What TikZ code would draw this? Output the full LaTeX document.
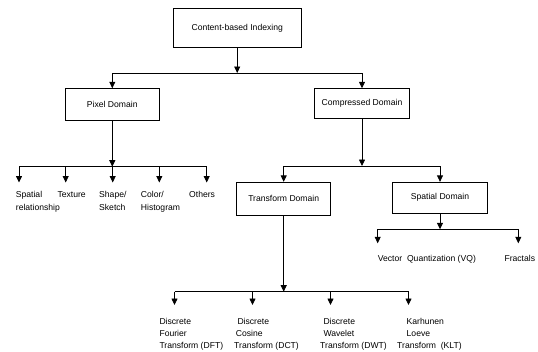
\documentclass[tikz,border=0pt]{standalone}
\usepackage{fontspec}
\setmainfont{Liberation Sans}
\usetikzlibrary{arrows.meta}
\begin{document}
\begin{tikzpicture}[x=1pt,y=-1pt,
  font=\fontsize{8.6}{12.4}\selectfont,
  box/.style={draw=black,line width=0.9pt,inner sep=0pt,align=center},
  leaf/.style={anchor=north west,inner sep=0pt,align=left},
  conn/.style={line width=0.8pt,black},
  arr/.style={conn,-{Triangle[width=6pt,length=6.5pt]}}]
\useasboundingbox (0,0) rectangle (538,351);
% boxes
\node[box,minimum width=127.7pt,minimum height=39.4pt] (content) at (237.2,28) {Content-based Indexing};
\node[box,minimum width=94.5pt,minimum height=31.3pt] (pixel) at (112.3,104.35) {Pixel Domain};
\node[box,minimum width=95.4pt,minimum height=29.3pt] (compressed) at (362,103.35) {Compressed Domain};
\node[box,minimum width=94pt,minimum height=32.7pt] (transform) at (283.7,198.65) {Transform Domain};
\node[box,minimum width=95pt,minimum height=30.7pt] (spatialdom) at (440,197.65) {Spatial Domain};
% leaves
\node[leaf] (spatrel) at (15.7,191.2) {Spatial\\relationship};
\node[leaf] (texture) at (57.3,191.2) {Texture};
\node[leaf] (shape) at (99,191.2) {Shape/\\Sketch};
\node[leaf] (color) at (140.7,191.2) {Color/\\Histogram};
\node[leaf] (others) at (189,191.2) {Others};
\node[leaf] (vq) at (377.7,255.2) {Vector\ \ Quantization (VQ)};
\node[leaf] (fractals) at (504.3,255.2) {Fractals};
\node[leaf] (dft) at (159.3,317.6) {Discrete\\Fourier\\Transform (DFT)};
\node[leaf] (dct) at (234,317.6) {\hspace*{3.3pt}Discrete\\\hspace*{1.7pt}Cosine\\Transform (DCT)};
\node[leaf] (dwt) at (320,317.6) {\hspace*{3.3pt}Discrete\\\hspace*{3.3pt}Wavelet\\Transform (DWT)};
\node[leaf] (klt) at (397,317.6) {\hspace*{9.5pt}Karhunen\\\hspace*{9.5pt}Loeve\\Transform\ \ (KLT)};
% junctions
\coordinate (j0) at (237.2,73);
\coordinate (j1) at (112.3,166.7);
\coordinate (j2) at (362,166);
\coordinate (j3) at (440,229.3);
\coordinate (j4) at (283.7,291.7);
% leaf arrow tips
\coordinate (p1) at (19,182.5);
\coordinate (p2) at (65.7,182.5);
\coordinate (p3) at (112.7,182.5);
\coordinate (p4) at (159.3,182.5);
\coordinate (p5) at (206.7,182.5);
\coordinate (s1) at (377.7,243.3);
\coordinate (s2) at (518.3,243.3);
\coordinate (t1) at (174.5,305);
\coordinate (t2) at (252.5,305);
\coordinate (t3) at (330.5,305);
\coordinate (t4) at (408.5,305);
% level 1
\draw[arr] (content.south) -- (j0);
\draw[conn] (pixel.north |- j0) -- (compressed.north |- j0);
\draw[arr] (pixel.north |- j0) -- (pixel.north);
\draw[arr] (compressed.north |- j0) -- (compressed.north);
% pixel branch
\draw[arr] (pixel.south) -- (j1);
\draw[conn] (p1 |- j1) -- (p5 |- j1);
\foreach \p in {p1,p2,p3,p4,p5} \draw[arr] (\p |- j1) -- (\p);
% compressed branch
\draw[arr] (compressed.south) -- (j2);
\draw[conn] (transform.north |- j2) -- (spatialdom.north |- j2);
\draw[arr] (transform.north |- j2) -- (transform.north);
\draw[arr] (spatialdom.north |- j2) -- (spatialdom.north);
% spatial branch
\draw[arr] (spatialdom.south) -- (j3);
\draw[conn] (s1 |- j3) -- (s2 |- j3);
\foreach \p in {s1,s2} \draw[arr] (\p |- j3) -- (\p);
% transform branch
\draw[arr] (transform.south) -- (j4);
\draw[conn] (t1 |- j4) -- (t4 |- j4);
\foreach \p in {t1,t2,t3,t4} \draw[arr] (\p |- j4) -- (\p);
\end{tikzpicture}
\end{document}
